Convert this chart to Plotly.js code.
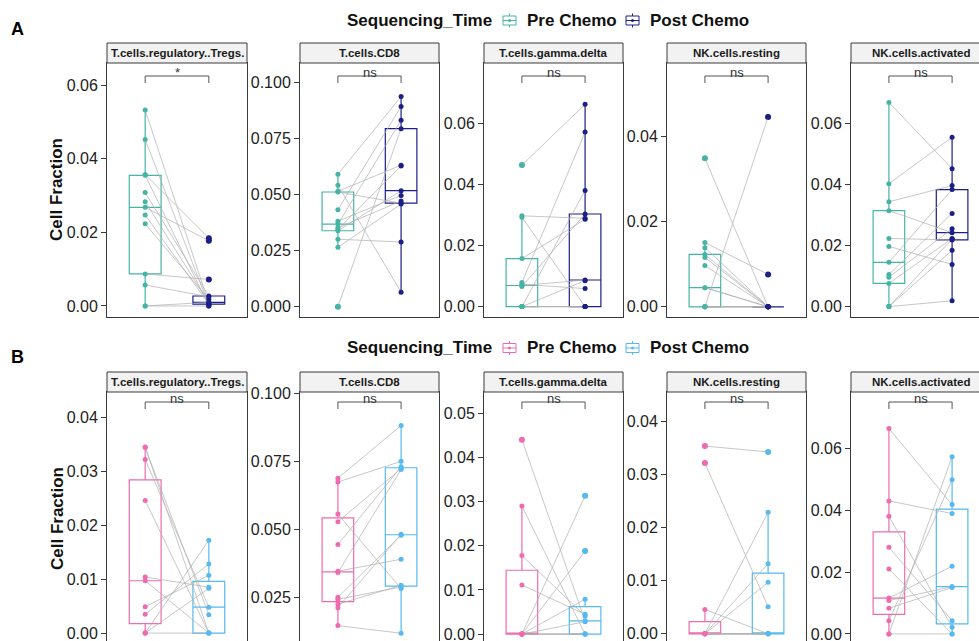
<!DOCTYPE html>
<html><head><meta charset="utf-8">
<script src="https://cdn.plot.ly/plotly-3.0.1.min.js"></script>
<style>html,body{margin:0;padding:0;overflow:hidden;background:#fff}#chart{width:1000px;height:660px}</style>
</head><body><div id="chart"></div>
<script>
// ---------------- data ----------------
const cellTypes = ['T.cells.regulatory..Tregs.', 'T.cells.CD8', 'T.cells.gamma.delta', 'NK.cells.resting', 'NK.cells.activated'];
const groups = ['Pre Chemo', 'Post Chemo'];
const legendTitle = 'Sequencing_Time';
const panelTags = ['A', 'B'];
const sigLabelsA = ['*', 'ns', 'ns', 'ns', 'ns'];
const sigLabelsB = ['ns', 'ns', 'ns', 'ns', 'ns'];

// Row A (paired samples, same order in pre / post)
const preA_Tregs  = [0.0532, 0.0452, 0.0357, 0.0355, 0.0308, 0.0283, 0.0268, 0.0247, 0.0223, 0.0087, 0.0057, 0, 0];
const postA_Tregs = [0.0007, 0.0002, 0.0184, 0, 0.0027, 0.0009, 0.0177, 0.0005, 0.0018, 0.0072, 0.0025, 0, 0.0010];
const preA_CD8    = [0.0591, 0.0542, 0.0515, 0.0512, 0.0433, 0.0382, 0.0369, 0.0352, 0.0345, 0.0339, 0.0301, 0.0265, 0];
const postA_CD8   = [0.0938, 0.0065, 0.0632, 0.0462, 0.0894, 0.0497, 0.0832, 0.0472, 0.0628, 0.0518, 0.0289, 0.0458, 0.0795];
const preA_GD     = [0.0463, 0.0297, 0.0292, 0.0157, 0.0079, 0.0073, 0.0069, 0.0066, 0, 0, 0, 0, 0];
const postA_GD    = [0.0662, 0.0289, 0, 0.0286, 0.0571, 0.0059, 0.0087, 0.0303, 0.0380, 0, 0, 0.0085, 0];
const preA_NKr    = [0.0349, 0.0151, 0.0139, 0.0123, 0.0116, 0.0097, 0.0045, 0.0045, 0, 0, 0, 0, 0];
const postA_NKr   = [0, 0.0076, 0, 0, 0, 0, 0, 0, 0.0446, 0, 0, 0, 0];
const preA_NKa    = [0.0668, 0.0402, 0.0343, 0.0314, 0.0223, 0.0197, 0.0145, 0.0105, 0.0096, 0.0076, 0, 0, 0];
const postA_NKa   = [0.0451, 0.0554, 0.0396, 0.0242, 0.0218, 0.0138, 0.0383, 0.0305, 0.0255, 0.0223, 0.0019, 0.0184, 0.0221];

// Row B
const preB_Tregs  = [0.0344, 0.0345, 0.0322, 0.0246, 0.0104, 0.0097, 0.0049, 0.0035, 0, 0, 0];
const postB_Tregs = [0.0034, 0, 0.0048, 0, 0.0085, 0, 0.0107, 0.0128, 0.0172, 0.0083, 0];
const preB_CD8    = [0.0688, 0.0674, 0.0556, 0.0528, 0.0444, 0.0346, 0.0341, 0.0250, 0.0243, 0.0225, 0.0212, 0.0146];
const postB_CD8   = [0.0882, 0.0750, 0.0282, 0.0723, 0.0730, 0.0390, 0.0720, 0.0478, 0.0288, 0.0294, 0.0482, 0.0118];
const preB_GD     = [0.0440, 0.0290, 0.0178, 0.0111, 0, 0, 0, 0, 0, 0, 0];
const postB_GD    = [0.0030, 0, 0.0041, 0.0045, 0.0313, 0.0188, 0.0079, 0.0028, 0, 0, 0];
const preB_NKr    = [0.0354, 0.0322, 0.0046, 0, 0, 0, 0, 0, 0, 0, 0];
const postB_NKr   = [0.0343, 0.0051, 0, 0.0229, 0.0132, 0.0097, 0, 0, 0, 0, 0];
const preB_NKa    = [0.0664, 0.0430, 0.0380, 0.0280, 0.0210, 0.0116, 0.0108, 0.0083, 0.0043, 0, 0];
const postB_NKa   = [0.0418, 0.0389, 0.0022, 0.0043, 0, 0.0219, 0.0153, 0.0150, 0.0498, 0.0573, 0];

// ---------------- styling / layout config ----------------
const rows = [
  {pre: [preA_Tregs, preA_CD8, preA_GD, preA_NKr, preA_NKa],
   post: [postA_Tregs, postA_CD8, postA_GD, postA_NKr, postA_NKa],
   sig: sigLabelsA, colors: ['#46B4A5', '#1C1F86'],
   plot: [63, 317], strip: [43, 63], bracket: [76, 83], sigY: 72, legendY: 20.5, tagY: 29,
   ranges: [[-0.003, 0.066], [-0.0046, 0.1088], [-0.0034, 0.0797], [-0.0024, 0.0573], [-0.0034, 0.0797]],
   dticks: [0.02, 0.025, 0.02, 0.02, 0.02], fmts: ['.2f', '.3f', '.2f', '.2f', '.2f']},
  {pre: [preB_Tregs, preB_CD8, preB_GD, preB_NKr, preB_NKa],
   post: [postB_Tregs, postB_CD8, postB_GD, postB_NKr, postB_NKa],
   sig: sigLabelsB, colors: ['#EE6BAF', '#56B9F0'],
   plot: [392, 646], strip: [372, 392], bracket: [402, 409], sigY: 399, legendY: 348, tagY: 357,
   ranges: [[-0.0024, 0.0447], [0.0071, 0.1005], [-0.0027, 0.0548], [-0.0023, 0.0456], [-0.0039, 0.0782]],
   dticks: [0.01, 0.025, 0.01, 0.01, 0.02], fmts: ['.2f', '.3f', '.2f', '.2f', '.2f']}
];
const W = 1000, H = 660;
const cols = [[107, 247], [300, 439], [484, 623], [667, 806], [851, 990]];
const FONT = 'Liberation Sans, Arial, Helvetica, sans-serif';
const BORDER = '#3a3a3a';
const px = v => v / W, py = v => 1 - v / H;

const traces = [], shapes = [], annotations = [];
const layout = {
  width: W, height: H, margin: {l: 0, r: 0, t: 0, b: 0},
  paper_bgcolor: '#fff', plot_bgcolor: '#fff', showlegend: false, hovermode: false,
  boxmode: 'overlay', font: {family: FONT, color: '#222'},
  shapes: shapes, annotations: annotations
};

rows.forEach((row, r) => {
  cellTypes.forEach((ct, k) => {
    const i = r * 5 + k + 1;
    const xa = i === 1 ? 'x' : 'x' + i, ya = i === 1 ? 'y' : 'y' + i;
    const xKey = i === 1 ? 'xaxis' : 'xaxis' + i, yKey = i === 1 ? 'yaxis' : 'yaxis' + i;
    layout[xKey] = {
      domain: [px(cols[k][0]), px(cols[k][1])], anchor: ya, type: 'category',
      categoryorder: 'array', categoryarray: groups, range: [-0.6, 1.6],
      showticklabels: false, ticks: '', showgrid: false, zeroline: false,
      showline: true, mirror: true, linecolor: BORDER, linewidth: 1, fixedrange: true
    };
    layout[yKey] = {
      domain: [py(row.plot[1]), py(row.plot[0])], anchor: xa, type: 'linear',
      range: row.ranges[k], tick0: 0, dtick: row.dticks[k], tickformat: row.fmts[k],
      ticks: 'outside', ticklen: 5, tickwidth: 1, tickcolor: BORDER,
      tickfont: {family: FONT, size: 16, color: '#222'},
      showgrid: false, zeroline: false, showline: true, mirror: true,
      linecolor: BORDER, linewidth: 1, fixedrange: true
    };
    const pre = row.pre[k], post = row.post[k];
    [pre, post].forEach((vals, g) => {
      traces.push({
        type: 'box', x: vals.map(() => groups[g]), y: vals, name: groups[g],
        xaxis: xa, yaxis: ya, width: 0.5, whiskerwidth: 0,
        line: {color: row.colors[g], width: 1.2}, fillcolor: 'rgba(255,255,255,0)',
        boxpoints: 'outliers', jitter: 0, pointpos: 0, quartilemethod: 'inclusive',
        marker: {color: row.colors[g], size: 6}, hoverinfo: 'skip', showlegend: false
      });
    });
    const lx = [], ly = [];
    pre.forEach((v, j) => { lx.push(groups[0], groups[1], null); ly.push(v, post[j], null); });
    traces.push({type: 'scatter', mode: 'lines', x: lx, y: ly, xaxis: xa, yaxis: ya,
      line: {color: 'rgba(175,175,175,0.7)', width: 1}, connectgaps: false, hoverinfo: 'skip'});
    [pre, post].forEach((vals, g) => {
      traces.push({type: 'scatter', mode: 'markers', x: vals.map(() => groups[g]), y: vals,
        xaxis: xa, yaxis: ya, marker: {color: row.colors[g], size: 5}, hoverinfo: 'skip'});
    });
    // strip
    shapes.push({type: 'rect', xref: 'paper', yref: 'paper', x0: px(cols[k][0]), x1: px(cols[k][1]),
      y0: py(row.strip[1]), y1: py(row.strip[0]), fillcolor: '#F2F2F2', line: {color: BORDER, width: 1}, layer: 'above'});
    annotations.push({xref: 'paper', yref: 'paper', x: px((cols[k][0] + cols[k][1]) / 2), y: py((row.strip[0] + row.strip[1]) / 2),
      text: '<b>' + ct + '</b>', showarrow: false, xanchor: 'center', yanchor: 'middle',
      font: {family: FONT, size: 11.5, color: '#1a1a1a'}});
    // significance bracket
    const yTop = (row.plot[1] - row.bracket[0]) / (row.plot[1] - row.plot[0]);
    const yBot = (row.plot[1] - row.bracket[1]) / (row.plot[1] - row.plot[0]);
    const bl = {color: '#555', width: 1};
    shapes.push({type: 'line', xref: xa, yref: ya + ' domain', x0: groups[0], x1: groups[1], y0: yTop, y1: yTop, line: bl});
    shapes.push({type: 'line', xref: xa, yref: ya + ' domain', x0: groups[0], x1: groups[0], y0: yTop, y1: yBot, line: bl});
    shapes.push({type: 'line', xref: xa, yref: ya + ' domain', x0: groups[1], x1: groups[1], y0: yTop, y1: yBot, line: bl});
    annotations.push({xref: xa + ' domain', yref: 'paper', x: 0.5, y: py(row.sigY), text: row.sig[k],
      showarrow: false, xanchor: 'center', yanchor: 'middle', font: {family: FONT, size: 13, color: '#333'}});
  });
  // y title
  annotations.push({xref: 'paper', yref: 'paper', x: px(57), y: py((row.plot[0] + row.plot[1]) / 2),
    text: '<b>Cell Fraction</b>', textangle: -90, showarrow: false, xanchor: 'center', yanchor: 'middle',
    font: {family: FONT, size: 17, color: '#111'}});
  // panel tag
  annotations.push({xref: 'paper', yref: 'paper', x: px(17.5), y: py(row.tagY), text: '<b>' + panelTags[r] + '</b>',
    showarrow: false, xanchor: 'center', yanchor: 'middle', font: {family: FONT, size: 18, color: '#000'}});
  // legend
  const ly = row.legendY;
  const lf = {family: FONT, size: 17, color: '#111'};
  annotations.push({xref: 'paper', yref: 'paper', x: px(345), y: py(ly), text: '<b>' + legendTitle + '</b>',
    showarrow: false, xanchor: 'left', yanchor: 'middle', font: lf});
  const iconX = [503, 626], textX = [525, 648];
  groups.forEach((g, gi) => {
    const c = row.colors[gi], x0 = iconX[gi], x1 = x0 + 13;
    shapes.push({type: 'line', xref: 'paper', yref: 'paper', x0: px(x0 + 6.5), x1: px(x0 + 6.5), y0: py(ly - 7), y1: py(ly + 7), line: {color: c, width: 1}});
    shapes.push({type: 'rect', xref: 'paper', yref: 'paper', x0: px(x0), x1: px(x1), y0: py(ly + 4.5), y1: py(ly - 4.5), fillcolor: '#fff', line: {color: c, width: 1}});
    shapes.push({type: 'line', xref: 'paper', yref: 'paper', x0: px(x0), x1: px(x1), y0: py(ly), y1: py(ly), line: {color: c, width: 1}});
    shapes.push({type: 'circle', xref: 'paper', yref: 'paper', x0: px(x0 + 5), x1: px(x0 + 8), y0: py(ly + 1.5), y1: py(ly - 1.5), fillcolor: c, line: {color: c, width: 0}});
    annotations.push({xref: 'paper', yref: 'paper', x: px(textX[gi]), y: py(ly), text: '<b>' + g + '</b>',
      showarrow: false, xanchor: 'left', yanchor: 'middle', font: lf});
  });
});

Plotly.newPlot('chart', traces, layout, {staticPlot: true, displayModeBar: false});
</script></body></html>
